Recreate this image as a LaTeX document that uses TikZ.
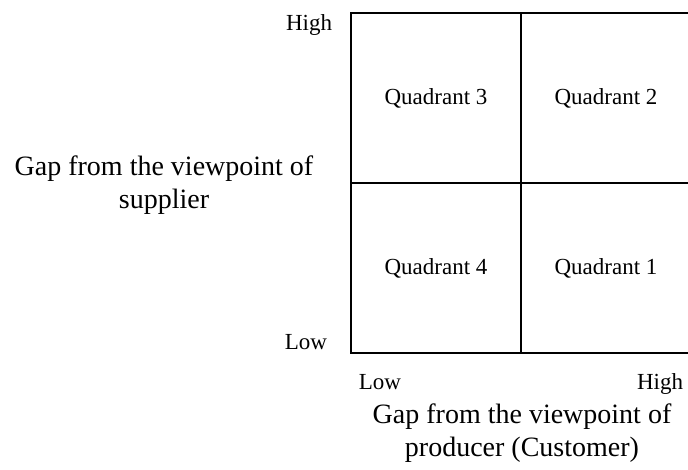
\documentclass[tikz,border=0pt]{standalone}
\usepackage{fontspec}
\setmainfont{Liberation Serif}
\begin{document}
\begin{tikzpicture}[
		x=1pt, y=-1pt,
		every node/.style={inner sep=0pt, text=black},
		tick/.style={font=\fontsize{23}{27}\selectfont},
		quad/.style={font=\fontsize{23}{27}\selectfont},
		axis/.style={font=\fontsize{28}{33}\selectfont, align=center},
		grid/.style={draw, line width=1.4pt},
		]
		\useasboundingbox (0,0) rectangle (688,470);
		% frame of the matrix
		\coordinate (nw) at (351,13);
		\coordinate (se) at (691,353);
		\coordinate (mt) at (521,13);
		\coordinate (mb) at (521,353);
		\coordinate (ml) at (351,183);
		\coordinate (mr) at (691,183);
		\draw [grid] (nw) rectangle (se);
		\draw [grid] (mt) -- (mb);
		\draw [grid] (ml) -- (mr);
		% quadrants
		\node [quad] (q3) at (436,98) {Quadrant 3};
		\node [quad] (q2) at (606,98) {Quadrant 2};
		\node [quad] (q4) at (436,268) {Quadrant 4};
		\node [quad] (q1) at (606,268) {Quadrant 1};
		% ticks
		\node [tick, anchor=base] (yhigh) at (309,31) {High};
		\node [tick, anchor=base] (ylow) at (306,349) {Low};
		\node [tick, anchor=base] (xlow) at (380,389) {Low};
		\node [tick, anchor=base] (xhigh) at (660,389) {High};
		% axis titles
		\node [axis] (ytitle) at (164,185) {Gap from the viewpoint of\\supplier};
		\node [axis] (xtitle) at (522,433) {Gap from the viewpoint of\\producer (Customer)};
	\end{tikzpicture}
\end{document}
